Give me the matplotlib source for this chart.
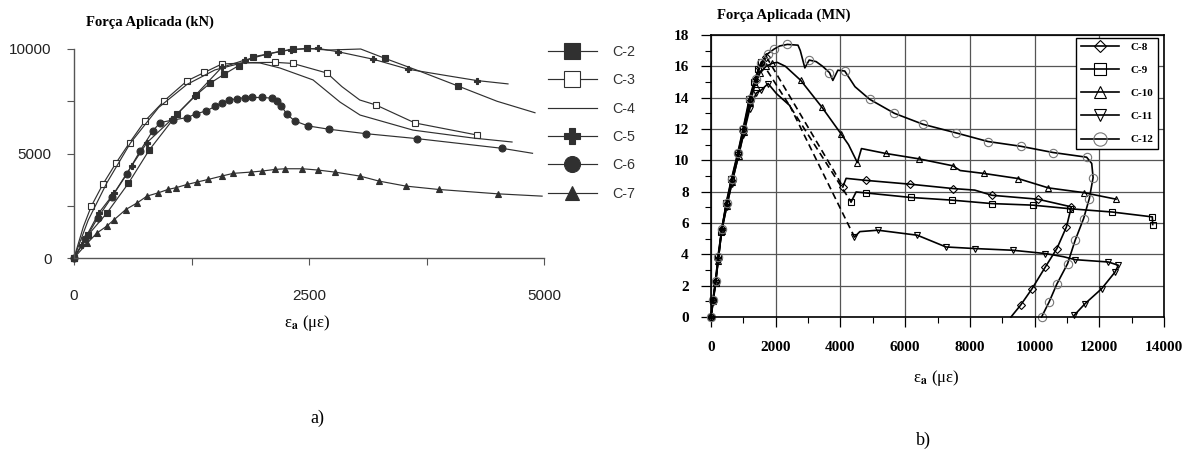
import matplotlib
matplotlib.use("Agg")
import matplotlib.pyplot as plt
from matplotlib.ticker import MultipleLocator

plt.rcParams['mathtext.fontset'] = 'stix'

# ---- left chart (a): applied force (kN) vs axial strain ----
c2_x = [0, 150, 348, 578, 801, 1100, 1300, 1447, 1600, 1750, 1908, 2050, 2200, 2330, 2475, 2700, 3050, 3309, 3700, 4085, 4500, 4904]
c2_y = [0, 1100, 2140, 3570, 5170, 6900, 7800, 8360, 8800, 9200, 9630, 9750, 9900, 9980, 10030, 9950, 10000, 9550, 8900, 8230, 7500, 6950]

c3_x = [0, 100, 184, 306, 449, 592, 755, 959, 1204, 1388, 1571, 1900, 2143, 2327, 2691, 2850, 3040, 3213, 3628, 4287]
c3_y = [0, 1500, 2480, 3520, 4560, 5520, 6560, 7520, 8480, 8880, 9280, 9350, 9360, 9310, 8850, 8200, 7560, 7320, 6460, 5885]

c4_x = [0, 150, 350, 600, 900, 1200, 1500, 1800, 1979, 2191, 2543, 2830, 3043, 3606, 4245, 4660]
c4_y = [0, 1800, 3600, 5500, 7200, 8300, 9000, 9350, 9330, 9090, 8520, 7460, 6840, 6120, 5740, 5550]

c5_x = [0, 82, 265, 429, 612, 776, 1041, 1286, 1571, 1816, 2061, 2306, 2592, 2808, 3184, 3557, 4000, 4287, 4617]
c5_y = [0, 640, 2160, 3120, 4400, 5520, 6640, 7760, 9120, 9470, 9760, 9970, 10030, 9870, 9510, 9030, 8700, 8490, 8330]

c6_x = [0, 120, 250, 400, 560, 700, 837, 918, 1050, 1204, 1300, 1408, 1500, 1571, 1650, 1735, 1820, 1898, 2000, 2102, 2160, 2204, 2265, 2347, 2490, 2714, 3102, 3653, 4551, 4878]
c6_y = [0, 900, 1900, 2900, 4000, 5100, 6080, 6480, 6600, 6720, 6900, 7040, 7250, 7440, 7550, 7630, 7670, 7680, 7680, 7650, 7500, 7280, 6880, 6560, 6320, 6160, 5950, 5710, 5250, 5010]

c7_x = [0, 143, 245, 347, 429, 551, 673, 776, 898, 1000, 1082, 1204, 1306, 1429, 1571, 1694, 1878, 2000, 2143, 2245, 2429, 2592, 2776, 3041, 3245, 3531, 3878, 4510, 4980]
c7_y = [0, 720, 1200, 1520, 1840, 2320, 2640, 2960, 3120, 3280, 3360, 3520, 3630, 3760, 3920, 4050, 4110, 4160, 4240, 4270, 4270, 4210, 4110, 3920, 3680, 3440, 3280, 3070, 2960]

# ---- right chart (b): applied force (MN) vs axial strain ----
c8_x = [0, 70, 150, 230, 330, 480, 640, 840, 1000, 1200, 1360, 1500, 1713, 3817, 4073, 4176, 4791, 6141, 7475, 8150, 8680, 10100, 11137, 10985, 10690, 10335, 9920, 9566, 9270]
c8_y = [0, 1.0, 2.3, 3.7, 5.6, 7.2, 8.7, 10.4, 11.9, 13.8, 15.1, 15.9, 16.6, 9.26, 8.3, 8.85, 8.72, 8.48, 8.2, 8.1, 7.77, 7.52, 7.03, 5.75, 4.37, 3.2, 1.8, 0.75, 0.0]

c9_x = [0, 60, 140, 210, 320, 470, 630, 830, 990, 1180, 1330, 1460, 1560, 4330, 4484, 4783, 6177, 7440, 8680, 9944, 11096, 12400, 13640, 13650]
c9_y = [0, 1.1, 2.2, 3.8, 5.4, 7.3, 8.8, 10.5, 12.0, 13.9, 15.0, 15.8, 16.3, 7.34, 7.98, 7.92, 7.63, 7.46, 7.24, 7.14, 6.91, 6.7, 6.39, 5.9]

c10_x = [0, 65, 140, 220, 330, 490, 650, 850, 1010, 1210, 1370, 1520, 1700, 1900, 2050, 2300, 2775, 3425, 4015, 4250, 4523, 4650, 5397, 6413, 7475, 7700, 8444, 9483, 10428, 11515, 12518]
c10_y = [0, 1.0, 2.2, 3.6, 5.5, 7.1, 8.6, 10.3, 11.8, 13.7, 14.9, 15.6, 16.0, 16.2, 16.25, 16.0, 15.1, 13.4, 11.7, 11.0, 9.86, 10.75, 10.44, 10.1, 9.65, 9.35, 9.16, 8.84, 8.24, 7.94, 7.52]

c11_x = [0, 60, 140, 220, 330, 480, 640, 840, 1000, 1200, 1400, 1560, 1765, 2021, 2432, 4381, 4432, 4600, 5161, 6377, 7263, 8149, 9330, 10334, 10890, 11255, 12282, 12590, 12487, 12075, 11560, 11220]
c11_y = [0, 1.0, 2.2, 3.6, 5.5, 7.0, 8.5, 10.2, 11.6, 13.3, 14.3, 14.5, 14.9, 14.26, 13.5, 5.32, 5.1, 5.45, 5.54, 5.22, 4.47, 4.37, 4.26, 4.05, 3.85, 3.66, 3.51, 3.30, 2.87, 1.81, 0.85, 0.1]

c12_x = [0, 60, 140, 220, 330, 480, 640, 840, 1000, 1200, 1380, 1550, 1750, 1950, 2124, 2362, 2688, 2760, 2900, 3035, 3250, 3450, 3661, 3765, 3920, 4133, 4450, 4901, 5669, 6554, 7558, 8562, 9566, 10570, 11609, 11766, 11809, 11692, 11515, 11255, 11019, 10688, 10450, 10216]
c12_y = [0, 1.1, 2.3, 3.8, 5.6, 7.3, 8.8, 10.5, 12.0, 13.9, 15.2, 16.2, 16.8, 17.1, 17.3, 17.4, 17.35, 17.0, 15.9, 16.4, 16.3, 16.0, 15.6, 15.1, 15.75, 15.7, 14.7, 13.9, 13.0, 12.3, 11.76, 11.2, 10.9, 10.5, 10.2, 9.8, 8.9, 7.56, 6.28, 4.9, 3.4, 2.1, 0.96, 0.0]

left_labels = ['C-2', 'C-3', 'C-4', 'C-5', 'C-6', 'C-7']
right_labels = ['C-8', 'C-9', 'C-10', 'C-11', 'C-12']

SERIF = 'Liberation Serif'
SANS = 'Liberation Sans'
dark = '#303030'

fig = plt.figure(figsize=(11.89, 4.5), dpi=100)

# ---------------- (a) ----------------
ax1 = fig.add_axes([74 / 1189, 1 - 258 / 450, 470 / 1189, 209 / 450])

left_series = [
    (c2_x, c2_y, dict(marker='s', mfc=dark, ms=5, markevery=list(range(15)) + [17, 19])),
    (c3_x, c3_y, dict(marker='s', mfc='white', ms=5, markevery=[i for i in range(len(c3_x)) if i not in (1, 11, 15, 16)])),
    (c4_x, c4_y, dict(marker='None')),
    (c5_x, c5_y, dict(marker='P', mfc=dark, ms=5, markevery=list(range(16)) + [17])),
    (c6_x, c6_y, dict(marker='o', mfc=dark, ms=5, markevery=list(range(len(c6_x) - 1)))),
    (c7_x, c7_y, dict(marker='^', mfc=dark, ms=4.5, markevery=list(range(len(c7_x) - 1)))),
]
for (xs, ys, st), lab in zip(left_series, left_labels):
    ax1.plot(xs, ys, color=dark, lw=0.85, mec=dark, mew=0.8, label=lab, clip_on=False, **st)

ax1.set_xlim(0, 5000)
ax1.set_ylim(0, 10000)
ax1.set_xticks([0, 1250, 2500, 3750, 5000], labels=['0', '', '2500', '', '5000'])
ax1.set_yticks([0, 2500, 5000, 7500, 10000], labels=['0', '', '5000', '', '10000'])
ax1.tick_params(direction='out', length=5, width=0.8, color='#555', labelsize=11, labelcolor='#222')
ax1.tick_params(axis='x', pad=17)
ax1.tick_params(axis='y', pad=11)
for lab in ax1.get_xticklabels() + ax1.get_yticklabels():
    lab.set_fontfamily(SANS)
for s in ('top', 'right'):
    ax1.spines[s].set_visible(False)
for s in ('left', 'bottom'):
    ax1.spines[s].set_color('#555')
    ax1.spines[s].set_linewidth(1.0)

leg1 = ax1.legend(loc='upper left', bbox_to_anchor=(548 / 1189, 1 - 45 / 450), bbox_transform=fig.transFigure,
                  frameon=False, markerscale=2.3, handlelength=3.4, handletextpad=1.1, labelspacing=1.0,
                  borderpad=0, borderaxespad=0, prop={'family': SANS, 'size': 10.3})
for t in leg1.get_texts():
    t.set_color('#333')

# ---------------- (b) ----------------
ax2 = fig.add_axes([711 / 1189, 1 - 317 / 450, 453 / 1189, 282 / 450])

ax2.set_xlim(0, 14000)
ax2.set_ylim(0, 18)
ax2.xaxis.set_major_locator(MultipleLocator(2000))
ax2.xaxis.set_minor_locator(MultipleLocator(1000))
ax2.yaxis.set_major_locator(MultipleLocator(2))
ax2.yaxis.set_minor_locator(MultipleLocator(1))
ax2.grid(True, which='major', color='#555', lw=0.9)
ax2.set_axisbelow(True)

# grid lines of the scan are not all alike
for tick in ax2.xaxis.get_major_ticks():
    v = tick.get_loc()
    if abs(v - 4000) < 1:
        tick.gridline.set_linestyle((0, (3, 2)))
        tick.gridline.set_color('#999')
    elif abs(v - 8000) < 1:
        tick.gridline.set_color('black')
        tick.gridline.set_linewidth(1.3)
for tick in ax2.yaxis.get_major_ticks():
    if round(tick.get_loc()) in (2, 4, 12, 14):
        tick.gridline.set_color('#999')

right_series = [
    (c8_x, c8_y, 'D', 4.0, 'black', [i for i in range(len(c8_x)) if i not in (15, 19, 28)], (12, 14)),
    (c9_x, c9_y, 's', 5.0, 'black', [i for i in range(len(c9_x)) if i != 14], (12, 13)),
    (c10_x, c10_y, '^', 5.0, 'black', list(range(14)) + [16, 17, 18, 20, 22, 23, 24, 26, 27, 28, 29, 30], None),
    (c11_x, c11_y, 'v', 5.0, 'black', list(range(13)) + [16, 18, 19, 20, 21, 22, 23, 25, 26, 27, 28, 29, 30, 31], (14, 15)),
    (c12_x, c12_y, 'o', 6.0, '#777', list(range(14)) + [15, 19, 22, 25] + list(range(27, 35)) + list(range(36, 44)), None),
]
handles = []
for (xs, ys, mk, ms, mec, mev, dash), lab in zip(right_series, right_labels):
    if dash is None:
        h, = ax2.plot(xs, ys, color='black', lw=1.2, marker=mk, ms=ms, mfc='none', mec=mec, mew=0.8,
                      markevery=mev, clip_on=False)
    else:
        i0, i1 = dash
        h, = ax2.plot(xs[:i0 + 1], ys[:i0 + 1], color='black', lw=1.2, marker=mk, ms=ms, mfc='none', mec=mec,
                      mew=0.8, markevery=[i for i in mev if i <= i0], clip_on=False)
        ax2.plot(xs[i0:i1 + 1], ys[i0:i1 + 1], color='black', lw=1.2, ls=(0, (4, 2.5)), marker='None')
        ax2.plot(xs[i1:], ys[i1:], color='black', lw=1.2, marker=mk, ms=ms, mfc='none', mec=mec, mew=0.8,
                 markevery=[i - i1 for i in mev if i >= i1], clip_on=False)
    h.set_label(lab)
    handles.append(h)

ax2.tick_params(which='major', direction='out', length=7, width=0.9, labelsize=11)
ax2.tick_params(which='minor', direction='out', length=4, width=0.8)
ax2.tick_params(axis='x', which='major', pad=10)
ax2.tick_params(axis='y', which='major', pad=9)
for lab in ax2.get_xticklabels() + ax2.get_yticklabels():
    lab.set_fontfamily(SERIF)
    lab.set_fontweight('bold')
for s in ax2.spines.values():
    s.set_linewidth(1.2)

leg2 = ax2.legend(handles=handles, loc='upper right', bbox_to_anchor=(0.987, 0.99), frameon=True, fancybox=False,
                  edgecolor='black', framealpha=1, markerscale=1.6, handlelength=3.4, handletextpad=1.1,
                  labelspacing=1.2, borderpad=0.4, borderaxespad=0,
                  prop={'family': SERIF, 'weight': 'bold', 'size': 8})
leg2.get_frame().set_linewidth(1.0)

# ---------------- texts ----------------
fig.text(150 / 1189, 1 - 22 / 450, 'Força Aplicada (kN)', ha='center', va='center',
         family=SERIF, weight='bold', fontsize=10.5)
fig.text(784 / 1189, 1 - 15 / 450, 'Força Aplicada (MN)', ha='center', va='center',
         family=SERIF, weight='bold', fontsize=10.5)
fig.text(307 / 1189, 1 - 323 / 450, 'ε$_\\mathbf{a}$ (με)', ha='center', va='center',
         family=SERIF, fontsize=12)
fig.text(936 / 1189, 1 - 378 / 450, 'ε$_\\mathbf{a}$ (με)', ha='center', va='center',
         family=SERIF, fontsize=12)
fig.text(317 / 1189, 1 - 418 / 450, 'a)', ha='center', va='center', family=SERIF, fontsize=13)
fig.text(923 / 1189, 1 - 440 / 450, 'b)', ha='center', va='center', family=SERIF, fontsize=13)

fig.savefig('out.png', dpi=100, facecolor='white')
